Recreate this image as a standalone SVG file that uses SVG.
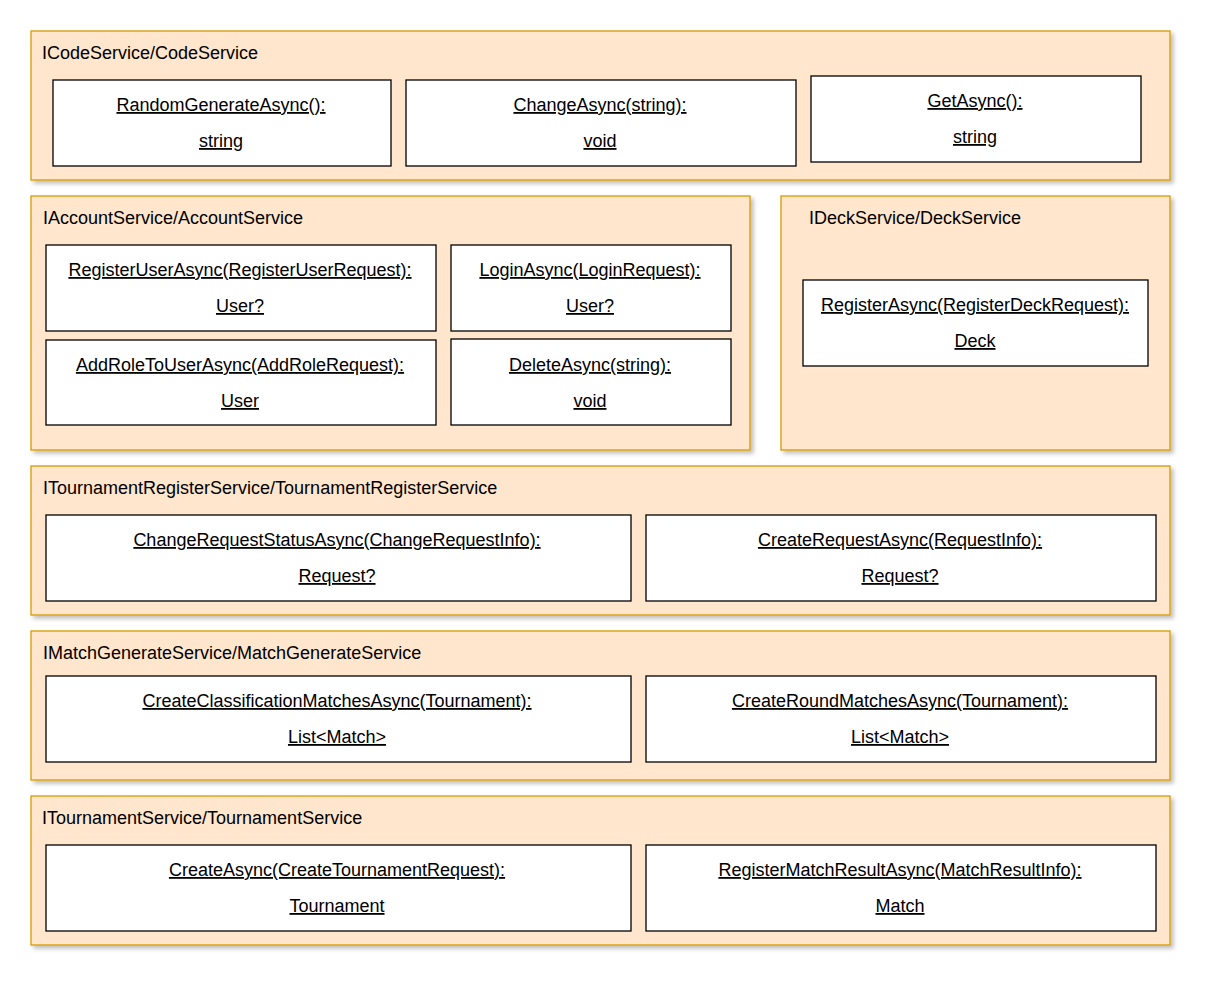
<svg xmlns="http://www.w3.org/2000/svg" width="1211" height="986" viewBox="0 0 1211 986">
<defs>
<filter id="sh" x="-5%" y="-5%" width="110%" height="120%">
<feDropShadow dx="3" dy="3" stdDeviation="2" flood-color="#000" flood-opacity="0.25"/>
</filter>
<style>
.c{fill:#ffe6cc;stroke:#d79b00;stroke-width:1.3;filter:url(#sh)}
.b{fill:#fff;stroke:#000;stroke-width:1.3}
.t{font-family:"Liberation Sans",Arial,sans-serif;font-size:18px;fill:#000}
.m{font-family:"Liberation Sans",Arial,sans-serif;font-size:18px;fill:#000;text-anchor:middle;text-decoration:underline}
</style>
</defs>
<rect width="1211" height="986" fill="#fff"/>
<g id="code">
<rect class="c" x="31" y="31" width="1139" height="149"/>
<text class="t" x="42" y="59">ICodeService/CodeService</text>
<g id="code-random"><rect class="b" x="53" y="80" width="338" height="86"/><text class="m" x="221" y="111">RandomGenerateAsync():</text><text class="m" x="221" y="147">string</text></g>
<g id="code-change"><rect class="b" x="406" y="80" width="390" height="86"/><text class="m" x="600" y="111">ChangeAsync(string):</text><text class="m" x="600" y="147">void</text></g>
<g id="code-get"><rect class="b" x="811" y="76" width="330" height="86"/><text class="m" x="975" y="107">GetAsync():</text><text class="m" x="975" y="143">string</text></g>
</g>
<g id="account">
<rect class="c" x="31" y="196" width="719" height="254"/>
<text class="t" x="43" y="224">IAccountService/AccountService</text>
<g id="acc-register"><rect class="b" x="46" y="245" width="390" height="86"/><text class="m" x="240" y="276">RegisterUserAsync(RegisterUserRequest):</text><text class="m" x="240" y="312">User?</text></g>
<g id="acc-login"><rect class="b" x="451" y="245" width="280" height="86"/><text class="m" x="590" y="276">LoginAsync(LoginRequest):</text><text class="m" x="590" y="312">User?</text></g>
<g id="acc-addrole"><rect class="b" x="46" y="340" width="390" height="85"/><text class="m" x="240" y="371">AddRoleToUserAsync(AddRoleRequest):</text><text class="m" x="240" y="407">User</text></g>
<g id="acc-delete"><rect class="b" x="451" y="339" width="280" height="86"/><text class="m" x="590" y="371">DeleteAsync(string):</text><text class="m" x="590" y="407">void</text></g>
</g>
<g id="deck">
<rect class="c" x="781" y="196" width="389" height="254"/>
<text class="t" x="809" y="224">IDeckService/DeckService</text>
<g id="deck-register"><rect class="b" x="803" y="280" width="345" height="86"/><text class="m" x="975" y="311">RegisterAsync(RegisterDeckRequest):</text><text class="m" x="975" y="347">Deck</text></g>
</g>
<g id="treg">
<rect class="c" x="31" y="466" width="1139" height="149"/>
<text class="t" x="43" y="494">ITournamentRegisterService/TournamentRegisterService</text>
<g id="treg-change"><rect class="b" x="46" y="515" width="585" height="86"/><text class="m" x="337" y="546">ChangeRequestStatusAsync(ChangeRequestInfo):</text><text class="m" x="337" y="582">Request?</text></g>
<g id="treg-create"><rect class="b" x="646" y="515" width="510" height="86"/><text class="m" x="900" y="546">CreateRequestAsync(RequestInfo):</text><text class="m" x="900" y="582">Request?</text></g>
</g>
<g id="match">
<rect class="c" x="31" y="631" width="1139" height="149"/>
<text class="t" x="43" y="659">IMatchGenerateService/MatchGenerateService</text>
<g id="match-class"><rect class="b" x="46" y="676" width="585" height="86"/><text class="m" x="337" y="707">CreateClassificationMatchesAsync(Tournament):</text><text class="m" x="337" y="743">List&lt;Match&gt;</text></g>
<g id="match-round"><rect class="b" x="646" y="676" width="510" height="86"/><text class="m" x="900" y="707">CreateRoundMatchesAsync(Tournament):</text><text class="m" x="900" y="743">List&lt;Match&gt;</text></g>
</g>
<g id="tour">
<rect class="c" x="31" y="796" width="1139" height="149"/>
<text class="t" x="42" y="824">ITournamentService/TournamentService</text>
<g id="tour-create"><rect class="b" x="46" y="845" width="585" height="86"/><text class="m" x="337" y="876">CreateAsync(CreateTournamentRequest):</text><text class="m" x="337" y="912">Tournament</text></g>
<g id="tour-result"><rect class="b" x="646" y="845" width="510" height="86"/><text class="m" x="900" y="876">RegisterMatchResultAsync(MatchResultInfo):</text><text class="m" x="900" y="912">Match</text></g>
</g>
<g id="connectors"></g>
</svg>
